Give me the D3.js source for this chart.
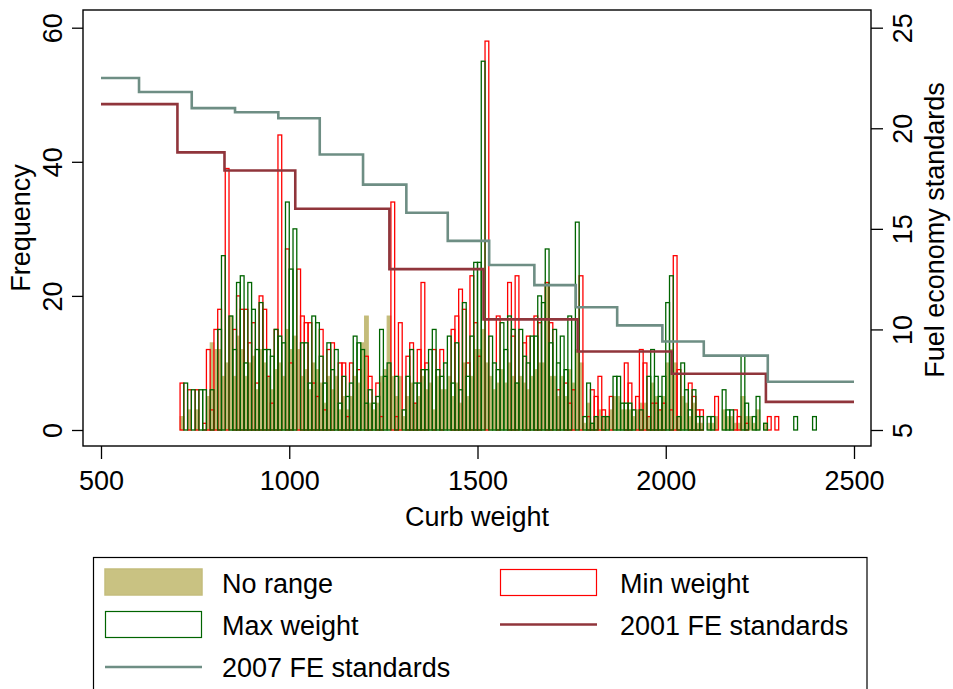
<!DOCTYPE html>
<html>
<head>
<meta charset="utf-8">
<script src="https://cdn.jsdelivr.net/npm/d3@7"></script>
<style>
body { margin: 0; background: #fff; }
text { font-family: "Liberation Sans", Arial, Helvetica, sans-serif; fill: #000; }
</style>
</head>
<body>
<div id="chart"></div>
<script>
// histogram bins: 10 kg wide, starting at 700 kg
var binStart = 700;
var binWidth = 10;

var noRange = [
  0,2,0,3,0,3,0,0,5,13,
  12,12,8,10,17,8,14,12,8,10,
  11,6,12,10,8,6,9,10,8,15,
  12,14,12,8,9,6,10,9,7,4,
  8,6,8,3,5,3,5,8,7,13,
  17,4,3,4,8,9,17,8,5,8,
  2,5,7,4,5,8,6,7,3,8,
  6,6,8,5,7,4,10,5,8,12,
  12,15,10,8,6,7,9,7,10,8,
  7,8,7,6,8,9,10,10,22,8,
  8,5,8,5,9,7,12,10,1,4,
  1,2,3,2,2,3,5,5,3,3,
  3,2,3,4,4,2,7,5,3,5,
  10,12,10,2,5,4,2,4,1,1,
  0,1,1,2,0,3,2,2,1,1,
  5,2,2,1,3,0,1,0,0,0,
  0,0,0,0,0,0,0,0,0,0,
  0
];

var minWeight = [
  0,7,0,6,0,6,0,1,12,3,
  15,18,0,39,0,15,20,18,18,13,
  16,7,20,18,8,4,15,44,0,27,
  10,0,24,17,16,16,7,5,15,3,
  12,13,0,10,10,2,10,0,9,0,
  11,8,0,7,2,0,0,34,2,16,
  0,11,13,4,12,22,10,0,12,0,
  12,0,0,15,17,21,18,10,23,16,
  11,0,58,0,0,17,0,0,22,14,
  23,0,13,14,0,17,16,0,22,16,
  0,6,0,7,4,6,0,23,0,2,
  6,5,8,3,0,5,0,0,0,10,
  7,0,5,12,10,2,4,4,3,4,
  0,3,26,9,0,0,7,5,3,3,
  0,0,0,5,0,0,0,0,3,2,
  0,1,0,0,0,0,0,2,0,2,
  0,0,0,0,0,0,0,0,0,0,
  0
];

var maxWeight = [
  0,0,7,0,6,0,6,6,0,6,
  0,15,26,0,17,12,22,23,10,22,
  18,12,19,12,12,11,15,14,13,34,
  24,30,0,13,13,7,17,16,11,7,
  13,9,12,4,8,5,7,14,13,12,
  4,6,4,5,15,8,10,0,8,0,
  3,8,12,7,7,9,9,12,15,9,
  8,10,14,7,13,6,19,8,14,25,
  25,55,0,14,10,9,16,12,17,15,
  7,15,11,10,14,14,20,19,27,13,
  15,10,14,9,17,0,31,0,2,7,
  1,2,0,2,2,0,8,8,4,4,
  4,3,0,3,0,8,12,8,5,8,
  19,23,0,2,10,6,3,6,2,2,
  0,2,2,0,0,6,3,3,0,0,
  11,4,0,2,5,0,1,0,0,0,
  0,0,0,0,2,0,0,0,0,2,
  0
];

// fuel economy standards by weight class (km/L)
var fe2001Breaks = [500, 703, 828, 1016, 1266, 1516, 1766, 2016, 2266, 2500];
var fe2001Values = [21.2, 18.8, 17.9, 16.0, 13.0, 10.5, 8.9, 7.8, 6.4];
var fe2007Breaks = [500, 601, 741, 856, 971, 1081, 1196, 1311, 1421, 1531, 1651, 1761, 1871, 1991, 2101, 2271, 2500];
var fe2007Values = [22.5, 21.8, 21.0, 20.8, 20.5, 18.7, 17.2, 15.8, 14.4, 13.2, 12.2, 11.1, 10.2, 9.4, 8.7, 7.4];

var xTicks = [500, 1000, 1500, 2000, 2500];
var freqTicks = [0, 20, 40, 60];
var feTicks = [5, 10, 15, 20, 25];


function drawChart(){
  'use strict';
  var width = 953;
  var height = 689;
  var fontSize = '27px';

  var svg = d3.select('#chart')
    .append('svg')
    .attr('width', width)
    .attr('height', height);

  var x = d3.scaleLinear().domain([500, 2500]).range([101, 854]);
  var yFreq = d3.scaleLinear().domain([0, 60]).range([430, 27.7]);
  var yFe = d3.scaleLinear().domain([5, 25]).range([430, 27.7]);

  function toBins(values){
    return values.map(function(v, i){
      return {x0: binStart + i * binWidth, x1: binStart + (i + 1) * binWidth, n: v};
    }).filter(function(d){ return d.n > 0; });
  }

  function drawBars(values, fill, stroke, sw){
    svg.append('g')
      .selectAll('rect')
      .data(toBins(values))
      .enter()
      .append('rect')
      .attr('x', function(d){ return x(d.x0); })
      .attr('width', function(d){ return x(d.x1) - x(d.x0); })
      .attr('y', function(d){ return yFreq(d.n); })
      .attr('height', function(d){ return yFreq(0) - yFreq(d.n); })
      .attr('fill', fill)
      .attr('stroke', stroke)
      .attr('stroke-width', sw);
  }

  drawBars(noRange, '#c4bc7a', '#c4bc7a', 1);
  drawBars(minWeight, 'none', '#ff0000', 1.3);
  drawBars(maxWeight, 'none', '#006400', 1.3);

  function stepPoints(breaks, values){
    var pts = values.map(function(v, i){ return [breaks[i], v]; });
    pts.push([breaks[breaks.length - 1], values[values.length - 1]]);
    return pts;
  }

  var stepLine = d3.line()
    .x(function(d){ return x(d[0]); })
    .y(function(d){ return yFe(d[1]); })
    .curve(d3.curveStepAfter);

  svg.append('path')
    .datum(stepPoints(fe2001Breaks, fe2001Values))
    .attr('d', stepLine)
    .attr('fill', 'none')
    .attr('stroke', '#90353b')
    .attr('stroke-width', 2.6);

  svg.append('path')
    .datum(stepPoints(fe2007Breaks, fe2007Values))
    .attr('d', stepLine)
    .attr('fill', 'none')
    .attr('stroke', '#6e8e84')
    .attr('stroke-width', 2.6);

  // plot frame
  svg.append('rect')
    .attr('x', 83).attr('y', 10)
    .attr('width', 871 - 83).attr('height', 446 - 10)
    .attr('fill', 'none')
    .attr('stroke', '#000')
    .attr('stroke-width', 1.4);

  // axes
  var xAxis = svg.append('g')
    .attr('transform', 'translate(0,446)')
    .call(d3.axisBottom(x).tickValues(xTicks).tickSize(13).tickFormat(d3.format('d')));
  xAxis.select('.domain').remove();
  xAxis.selectAll('line').attr('stroke', '#000').attr('stroke-width', 1.3);
  xAxis.selectAll('text')
    .attr('y', 44).attr('dy', null)
    .style('font-size', fontSize).style('font-family', null).attr('fill', '#000');

  var leftAxis = svg.append('g')
    .attr('transform', 'translate(83,0)')
    .call(d3.axisLeft(yFreq).tickValues(freqTicks).tickSize(11));
  leftAxis.select('.domain').remove();
  leftAxis.selectAll('line').attr('stroke', '#000').attr('stroke-width', 1.3);
  leftAxis.selectAll('text')
    .attr('x', null).attr('dy', null)
    .attr('text-anchor', 'middle')
    .attr('transform', 'translate(-21,0) rotate(-90)')
    .style('font-size', fontSize).attr('fill', '#000');

  var rightAxis = svg.append('g')
    .attr('transform', 'translate(871,0)')
    .call(d3.axisRight(yFe).tickValues(feTicks).tickSize(12));
  rightAxis.select('.domain').remove();
  rightAxis.selectAll('line').attr('stroke', '#000').attr('stroke-width', 1.3);
  rightAxis.selectAll('text')
    .attr('x', null).attr('dy', null)
    .attr('text-anchor', 'middle')
    .attr('transform', 'translate(41,0) rotate(-90)')
    .style('font-size', fontSize).attr('fill', '#000');

  // axis titles
  svg.append('text')
    .attr('x', 477).attr('y', 526)
    .attr('text-anchor', 'middle')
    .style('font-size', fontSize)
    .text('Curb weight');

  svg.append('text')
    .attr('transform', 'translate(30,228) rotate(-90)')
    .attr('text-anchor', 'middle')
    .style('font-size', fontSize)
    .text('Frequency');

  svg.append('text')
    .attr('transform', 'translate(944,230) rotate(-90)')
    .attr('text-anchor', 'middle')
    .style('font-size', fontSize)
    .text('Fuel economy standards');

  // legend
  var legend = svg.append('g');
  legend.append('rect')
    .attr('x', 93.5).attr('y', 557.5)
    .attr('width', 867 - 93.5).attr('height', 160)
    .attr('fill', 'none')
    .attr('stroke', '#000')
    .attr('stroke-width', 1.2);

  legend.append('rect')
    .attr('x', 105).attr('y', 569).attr('width', 97).attr('height', 26)
    .attr('fill', '#c9c282').attr('stroke', '#c4bd7c').attr('stroke-width', 1.5);
  legend.append('text').attr('x', 222).attr('y', 593).style('font-size', fontSize).text('No range');

  legend.append('rect')
    .attr('x', 500.5).attr('y', 569.5).attr('width', 96).attr('height', 26)
    .attr('fill', '#fff').attr('stroke', '#ff0000').attr('stroke-width', 1.2);
  legend.append('text').attr('x', 620).attr('y', 593).style('font-size', fontSize).text('Min weight');

  legend.append('rect')
    .attr('x', 105.5).attr('y', 611.5).attr('width', 96).attr('height', 26)
    .attr('fill', '#fff').attr('stroke', '#006400').attr('stroke-width', 1.2);
  legend.append('text').attr('x', 222).attr('y', 635).style('font-size', fontSize).text('Max weight');

  legend.append('line')
    .attr('x1', 500).attr('x2', 597).attr('y1', 624.5).attr('y2', 624.5)
    .attr('stroke', '#90353b').attr('stroke-width', 2.6);
  legend.append('text').attr('x', 620).attr('y', 635).style('font-size', fontSize).text('2001 FE standards');

  legend.append('line')
    .attr('x1', 105).attr('x2', 202).attr('y1', 667).attr('y2', 667)
    .attr('stroke', '#6e8e84').attr('stroke-width', 2.6);
  legend.append('text').attr('x', 222).attr('y', 677).style('font-size', fontSize).text('2007 FE standards');
}

drawChart();
</script>
</body>
</html>
